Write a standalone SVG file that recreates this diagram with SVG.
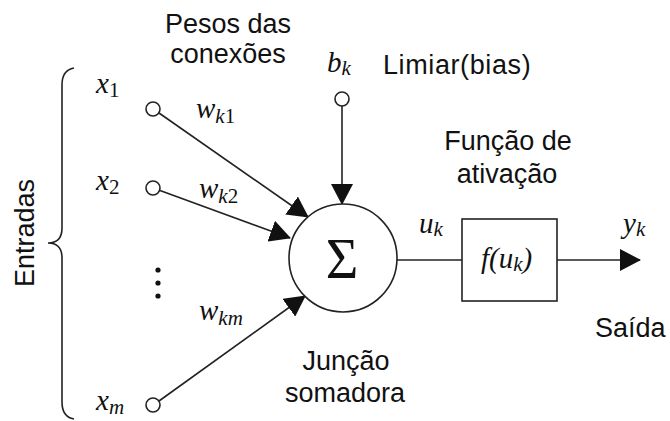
<svg xmlns="http://www.w3.org/2000/svg" width="670" height="421" viewBox="0 0 670 421">
<style>
.lbl{font-family:"Liberation Sans",Arial,sans-serif;font-size:27px;fill:#111}
.math{font-family:'Liberation Serif','Times New Roman',serif;font-style:italic;font-size:29px;fill:#111}
.sub{font-size:21px}
.up{font-style:normal}
.big{font-size:56px}
.ln{stroke:#222;stroke-width:1.6;fill:none}
.node{fill:#fff;stroke:#222;stroke-width:1.6}
</style>
<defs>
<marker id="ah" markerUnits="userSpaceOnUse" markerWidth="22" markerHeight="22" refX="20" refY="11" orient="auto" viewBox="0 0 22 22">
<path d="M0,0 L21,11 L0,22 z" fill="#111"/>
</marker>
</defs>
<rect width="670" height="421" fill="#fff"/>

<g id="connectors">
<line class="ln" x1="159" y1="113" x2="308" y2="217" marker-end="url(#ah)"/>
<line class="ln" x1="160" y1="190.5" x2="290" y2="238" marker-end="url(#ah)"/>
<line class="ln" x1="159" y1="401" x2="305" y2="296" marker-end="url(#ah)"/>
<line class="ln" x1="342" y1="106" x2="342" y2="204" marker-end="url(#ah)"/>
<line class="ln" x1="397" y1="260" x2="462" y2="260"/>
<line class="ln" x1="557" y1="260" x2="640" y2="260" marker-end="url(#ah)"/>
</g>

<g id="brace">
<path class="ln" d="M74,68 Q62,70 62,85 L62,228 Q62,243 48,243 Q62,243 62,258 L62,402 Q62,417 74,419"/>
<text class="lbl" transform="translate(34,233) rotate(-90)" text-anchor="middle">Entradas</text>
</g>

<g id="x1">
<circle class="node" cx="153" cy="109" r="7"/>
<text class="math" x="96" y="93">x<tspan class="sub up" dy="4">1</tspan></text>
<text class="math" x="196" y="118">w<tspan class="sub" dy="5">k</tspan><tspan class="sub up">1</tspan></text>
</g>
<g id="x2">
<circle class="node" cx="153" cy="188" r="7"/>
<text class="math" x="96" y="190">x<tspan class="sub up" dy="4">2</tspan></text>
<text class="math" x="199" y="198">w<tspan class="sub" dy="5">k</tspan><tspan class="sub up">2</tspan></text>
</g>
<g id="dots" fill="#111">
<circle cx="158" cy="270" r="2.6"/>
<circle cx="158" cy="283" r="2.6"/>
<circle cx="158" cy="296" r="2.6"/>
</g>
<g id="xm">
<circle class="node" cx="153" cy="405" r="7"/>
<text class="math" x="96" y="410">x<tspan class="sub" dy="4">m</tspan></text>
<text class="math" x="199" y="320">w<tspan class="sub" dy="5">km</tspan></text>
</g>

<g id="weights-label">
<text class="lbl" x="228" y="33" text-anchor="middle">Pesos das</text>
<text class="lbl" x="228" y="63" text-anchor="middle">conexões</text>
</g>

<g id="bias">
<circle class="node" cx="342" cy="99" r="7"/>
<text class="math" x="327" y="72">b<tspan class="sub" dy="3">k</tspan></text>
<text class="lbl" x="383" y="74" letter-spacing="0.6">Limiar(bias)</text>
</g>

<g id="sum">
<circle class="node" cx="343" cy="258" r="54"/>
<text class="math up big" x="342" y="278" text-anchor="middle">Σ</text>
<text class="lbl" x="346" y="370" text-anchor="middle">Junção</text>
<text class="lbl" x="345" y="402" text-anchor="middle">somadora</text>
</g>

<g id="uk">
<text class="math" x="419" y="233">u<tspan class="sub" dy="3">k</tspan></text>
</g>

<g id="activation">
<rect class="node" x="462" y="219" width="95" height="82"/>
<text class="math" x="481" y="268">f(u<tspan class="sub" dy="3">k</tspan><tspan dy="-3">)</tspan></text>
<text class="lbl" x="508" y="150" text-anchor="middle">Função de</text>
<text class="lbl" x="507" y="183" text-anchor="middle">ativação</text>
</g>

<g id="output">
<text class="math" x="623" y="233">y<tspan class="sub" dy="3">k</tspan></text>
<text class="lbl" x="595" y="337">Saída</text>
</g>
</svg>
